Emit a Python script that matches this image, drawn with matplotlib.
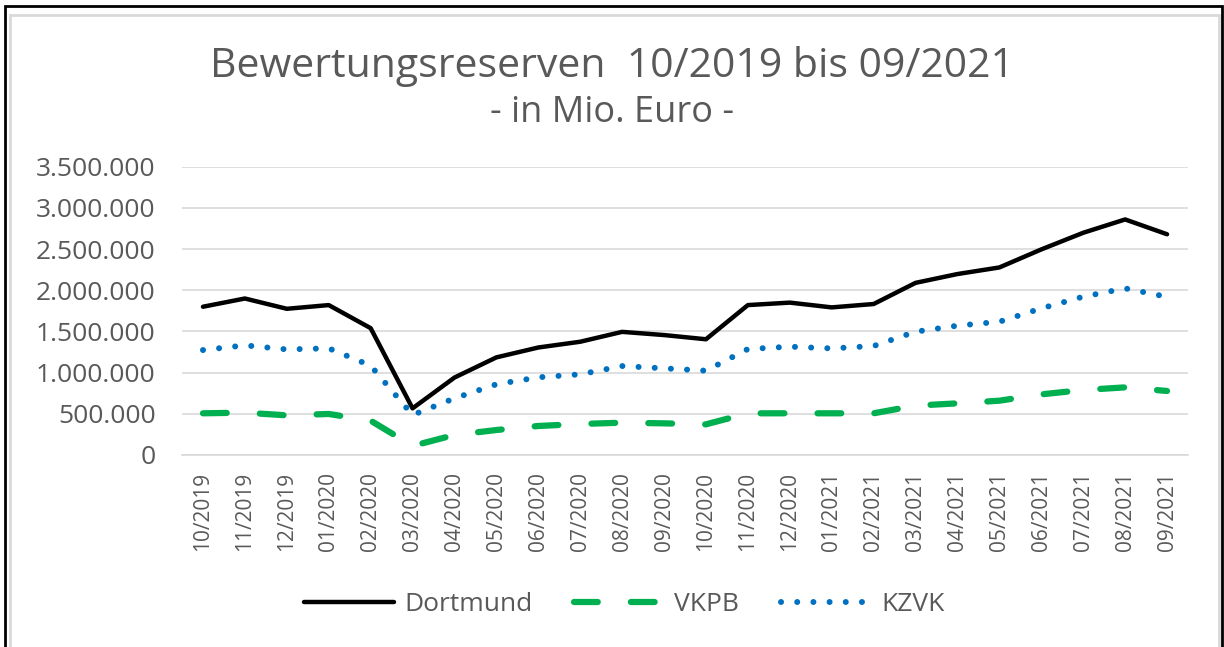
import matplotlib
matplotlib.use("Agg")
import matplotlib.pyplot as plt
from matplotlib.patches import Rectangle

plt.rcParams['font.family'] = ['Open Sans', 'DejaVu Sans']

# monthly values, 10/2019 .. 09/2021
months = ["10/2019", "11/2019", "12/2019", "01/2020", "02/2020", "03/2020",
          "04/2020", "05/2020", "06/2020", "07/2020", "08/2020", "09/2020",
          "10/2020", "11/2020", "12/2020", "01/2021", "02/2021", "03/2021",
          "04/2021", "05/2021", "06/2021", "07/2021", "08/2021", "09/2021"]

dortmund = [1800000, 1900000, 1775000, 1820000, 1540000, 566000,
            940000, 1185000, 1305000, 1375000, 1495000, 1456000,
            1405000, 1820000, 1850000, 1792000, 1833000, 2090000,
            2197000, 2277000, 2496000, 2698000, 2860000, 2680000]

vkpb = [506000, 514000, 481000, 498000, 417000, 110000,
        243000, 303000, 352000, 376000, 392000, 384000,
        372000, 506000, 506000, 506000, 506000, 599000,
        627000, 659000, 736000, 789000, 821000, 777000]

kzvk = [1274000, 1331000, 1282000, 1295000, 1085000, 485000,
        688000, 858000, 943000, 979000, 1080000, 1052000,
        1023000, 1286000, 1315000, 1294000, 1323000, 1497000,
        1570000, 1618000, 1780000, 1922000, 2023000, 1920000]

y_ticks = [0, 500000, 1000000, 1500000, 2000000, 2500000, 3000000, 3500000]

grey_text = "#595959"
grid_col = "#D9D9D9"

fig = plt.figure(figsize=(12.24, 6.47), dpi=100)
ax = fig.add_axes([0.1487, 0.2968, 0.8219, 0.4455])

x = list(range(len(months)))
ax.plot(x, dortmund, color="black", lw=3.2, solid_capstyle="round",
        solid_joinstyle="round", label="Dortmund", zorder=3)
ax.plot(x, vkpb, color="#00B050", lw=4.5, dashes=(3.8, 5.3),
        dash_capstyle="round", label="VKPB", zorder=3)
ax.plot(x, kzvk, color="#0070C0", lw=4.3, dashes=(0.01, 2.7),
        dash_capstyle="round", label="KZVK", zorder=3)

ax.set_xlim(-0.5, len(months) - 0.5)
ax.set_ylim(0, 3500000)
ax.set_yticks(y_ticks)
ax.set_yticklabels([f"{v:,}".replace(",", ".") for v in y_ticks])
ax.set_xticks(x)
ax.set_xticklabels(months, rotation=90)

ax.grid(axis="y", color=grid_col, lw=1.2)
ax.set_axisbelow(True)
for side in ["top", "right", "left"]:
    ax.spines[side].set_visible(False)
ax.spines["bottom"].set_color(grid_col)
ax.spines["bottom"].set_linewidth(1.2)
ax.tick_params(axis="both", length=0, colors=grey_text)
ax.tick_params(axis="y", pad=19, labelsize=19)
ax.tick_params(axis="x", pad=12, labelsize=15)

fig.text(0.5, 0.881, "Bewertungsreserven  10/2019 bis 09/2021", ha="center",
         va="baseline", fontsize=29.5, color=grey_text)
fig.text(0.5, 0.8114, "- in Mio. Euro -", ha="center", va="baseline",
         fontsize=26, color=grey_text)

leg = fig.legend(loc="center", bbox_to_anchor=(0.51, 0.066), ncol=3,
                 frameon=False, fontsize=19, handlelength=3.4,
                 columnspacing=1.6, handletextpad=0.38)
for t in leg.get_texts():
    t.set_color(grey_text)

# chart frame: outer black border and inner grey chart area border
fig.patches.append(Rectangle((5 / 1224, -0.05), 1217 / 1224, 1 - 6 / 647 + 0.05,
                             transform=fig.transFigure, fill=False,
                             edgecolor="black", lw=2.0))
fig.patches.append(Rectangle((10 / 1224, -0.05), 1209 / 1224, 1 - 15 / 647 + 0.05,
                             transform=fig.transFigure, fill=False,
                             edgecolor=grid_col, lw=2.0))

fig.savefig("out.png", dpi=100)
